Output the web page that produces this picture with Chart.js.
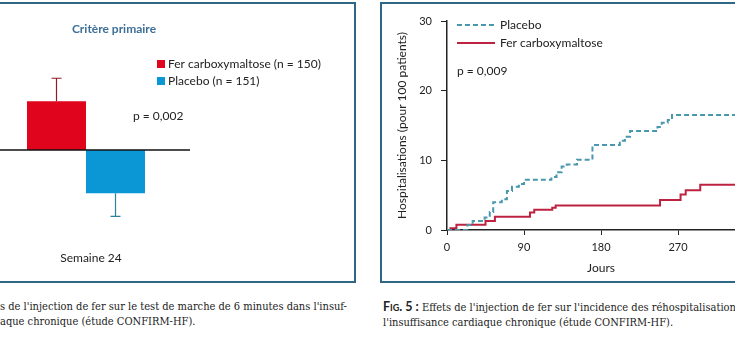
<!DOCTYPE html>
<html lang="fr">
<head>
<meta charset="utf-8">
<title>CONFIRM-HF</title>
<script src="https://cdn.jsdelivr.net/npm/chart.js@4.4.1/dist/chart.umd.min.js"></script>
<style>
  html, body { margin: 0; padding: 0; background: #fff; }
  body { width: 735px; height: 339px; position: relative; overflow: hidden; }
  .frame { position: absolute; box-sizing: border-box; border: 2px solid #2f6887; }
  #frameWalk { left: -10px; top: 2px; width: 366px; height: 281px; }
  #frameHosp { left: 380px; top: 2px; width: 420px; height: 281px; }
  .holder { position: absolute; top: 0; height: 285px; }
  .caption {
    position: absolute; white-space: nowrap; color: #222;
    font-family: "DejaVu Serif Condensed", "Liberation Serif", serif;
    font-size: 11px; line-height: 15px;
  }
  .caption b { font-family: "Lato", sans-serif; font-variant: small-caps; font-weight: 700; font-size: 12.5px; }
</style>
</head>
<body>
<div class="frame" id="frameWalk"></div>
<div class="frame" id="frameHosp"></div>
<div class="holder" style="left:0;width:355px"><canvas id="walkChart"></canvas></div>
<div class="holder" style="left:380px;width:400px"><canvas id="hospChart"></canvas></div>

<div class="caption" style="left:0;top:299px">s de l'injection de fer sur le test de marche de 6 minutes dans l'insuf-<br>aque chronique (étude CONFIRM-HF).</div>
<div class="caption" style="left:383px;top:299px"><b>Fig. 5 :</b> Effets de l'injection de fer sur l'incidence des réhospitalisations<br>l'insuffisance cardiaque chronique (étude CONFIRM-HF).</div>

<script>
// --- 6-minute walk test, change at week 24 (m) ---
const walkGroups = ['Semaine 24'];
const ferWalkChange = [18];
const ferWalkError = [8.5];
const placeboWalkChange = [-16];
const placeboWalkError = [8.5];

// --- cumulative hospitalisations per 100 patients ---
const ferDays = [0, 4, 11, 45, 56, 97, 102, 123, 127, 249, 273, 279, 296, 360];
const ferRate = [0, 0.25, 0.75, 1.3, 1.9, 2.5, 2.9, 3.2, 3.5, 4.3, 5.1, 5.7, 6.5, 6.5];
const placeboDays = [0, 24, 30, 44, 50, 54, 64, 70, 76, 84, 90, 122, 128, 134, 140, 152, 170, 202, 208, 214, 246, 251, 258, 263, 360];
const placeboRate = [0, 0.7, 1.3, 1.8, 2.6, 4.0, 4.4, 5.6, 6.2, 6.6, 7.2, 7.6, 8.3, 9.1, 9.4, 10.1, 12.2, 12.8, 13.4, 14.2, 14.8, 15.4, 15.8, 16.5, 16.5];
const dayTicks = [0, 90, 180, 270, 360];
const rateTicks = [0, 10, 20, 30];

const FONT = 'Lato, "Open Sans", sans-serif';
const INK = '#222';

function text(ctx, str, x, y, opts = {}) {
  ctx.save();
  ctx.font = (opts.weight || 'normal') + ' ' + (opts.size || 12) + 'px ' + FONT;
  ctx.fillStyle = opts.color || INK;
  ctx.textAlign = opts.align || 'left';
  ctx.textBaseline = 'middle';
  ctx.fillText(str, x, y);
  ctx.restore();
}

// error bars, zero line and annotations for the walk test panel
const walkDecor = {
  id: 'walkDecor',
  afterDatasetsDraw(chart) {
    const { ctx, scales: { y } } = chart;
    const errors = [ferWalkError, placeboWalkError];
    const whisker = ['#8e1b25', '#2f7f9e'];
    chart.data.datasets.forEach((ds, i) => {
      chart.getDatasetMeta(i).data.forEach((bar, j) => {
        const v = ds.data[j];
        const end = v + Math.sign(v) * errors[i][j];
        const y0 = y.getPixelForValue(v), y1 = y.getPixelForValue(end);
        ctx.save();
        ctx.strokeStyle = whisker[i];
        ctx.lineWidth = 1.2;
        ctx.beginPath();
        ctx.moveTo(bar.x, y0); ctx.lineTo(bar.x, y1);
        ctx.moveTo(bar.x - 5, y1); ctx.lineTo(bar.x + 5, y1);
        ctx.stroke();
        ctx.restore();
      });
    });
    const yz = y.getPixelForValue(0);
    ctx.save();
    ctx.strokeStyle = '#111';
    ctx.lineWidth = 1.5;
    ctx.beginPath();
    ctx.moveTo(0, yz); ctx.lineTo(190, yz);
    ctx.stroke();
    ctx.restore();
  },
  afterDraw(chart) {
    const { ctx } = chart;
    text(ctx, 'Critère primaire', 114, 29, { weight: 'bold', color: '#3d6f98', align: 'center' });
    chart.data.datasets.forEach((ds, i) => {
      const yy = 64 + i * 17;
      ctx.fillStyle = ds.backgroundColor;
      ctx.fillRect(157, yy - 4, 8, 8);
      text(ctx, ds.label, 168, yy);
    });
    text(ctx, 'p = 0,002', 133, 116);
    text(ctx, walkGroups[0], 91, 258, { align: 'center' });
  }
};

new Chart(document.getElementById('walkChart'), {
  type: 'bar',
  data: {
    labels: walkGroups,
    datasets: [
      { label: 'Fer carboxymaltose (n = 150)', data: ferWalkChange, backgroundColor: '#e0051d' },
      { label: 'Placebo (n = 151)', data: placeboWalkChange, backgroundColor: '#0b96d6' }
    ]
  },
  options: {
    responsive: true,
    maintainAspectRatio: false,
    animation: false,
    categoryPercentage: 0.686,
    barPercentage: 1,
    layout: { padding: { left: 0, right: 183, top: 20, bottom: 5 } },
    plugins: { legend: { display: false }, tooltip: { enabled: false } },
    scales: {
      x: { display: false },
      y: { display: false, min: -48, max: 48 }
    }
  },
  plugins: [walkDecor]
});

// legend and p value for the hospitalisation panel
const hospDecor = {
  id: 'hospDecor',
  afterDraw(chart) {
    const { ctx } = chart;
    chart.data.datasets.forEach((ds, i) => {
      const yy = 25 + i * 18;
      ctx.save();
      ctx.strokeStyle = ds.borderColor;
      ctx.lineWidth = ds.borderWidth;
      ctx.setLineDash(ds.borderDash || []);
      ctx.beginPath();
      ctx.moveTo(77, yy); ctx.lineTo(115, yy);
      ctx.stroke();
      ctx.restore();
      text(ctx, ds.label, 120, yy);
    });
    text(ctx, 'p = 0,009', 77, 71);
  }
};

new Chart(document.getElementById('hospChart'), {
  type: 'line',
  data: {
    datasets: [
      {
        label: 'Placebo',
        data: placeboDays.map((d, i) => ({ x: d, y: placeboRate[i] })),
        borderColor: '#4a98ad',
        borderWidth: 2,
        borderDash: [5, 3],
        stepped: true,
        pointRadius: 0,
        fill: false
      },
      {
        label: 'Fer carboxymaltose',
        data: ferDays.map((d, i) => ({ x: d, y: ferRate[i] })),
        borderColor: '#bd2340',
        borderWidth: 2,
        stepped: true,
        pointRadius: 0,
        fill: false
      }
    ]
  },
  options: {
    responsive: true,
    maintainAspectRatio: false,
    animation: false,
    layout: { padding: { left: 0, right: 25, top: 21, bottom: 0 } },
    plugins: { legend: { display: false }, tooltip: { enabled: false } },
    scales: {
      x: {
        type: 'linear',
        min: 0, max: 360,
        afterBuildTicks: s => { s.ticks = dayTicks.map(v => ({ value: v })); },
        afterFit: s => { s.height = 55; },
        grid: { drawOnChartArea: false, drawTicks: true, tickLength: 5, color: INK },
        border: { display: true, color: INK, width: 1.5 },
        ticks: { padding: 6, color: INK, font: { family: FONT, size: 11 }, maxRotation: 0 },
        title: { display: true, text: 'Jours', color: INK, font: { family: FONT, size: 12 }, padding: { top: 0, bottom: 10 } }
      },
      y: {
        min: 0, max: 30,
        afterBuildTicks: s => { s.ticks = rateTicks.map(v => ({ value: v })); },
        afterFit: s => { s.width = 67; },
        grid: { drawOnChartArea: false, drawTicks: true, tickLength: 6, color: INK },
        border: { display: true, color: INK, width: 1.5 },
        ticks: { padding: 9, color: INK, font: { family: FONT, size: 11 } },
        title: { display: true, text: 'Hospitalisations (pour 100 patients)', color: INK, font: { family: FONT, size: 12 }, padding: { top: 15, bottom: 0 } }
      }
    }
  },
  plugins: [hospDecor]
});
</script>
</body>
</html>
